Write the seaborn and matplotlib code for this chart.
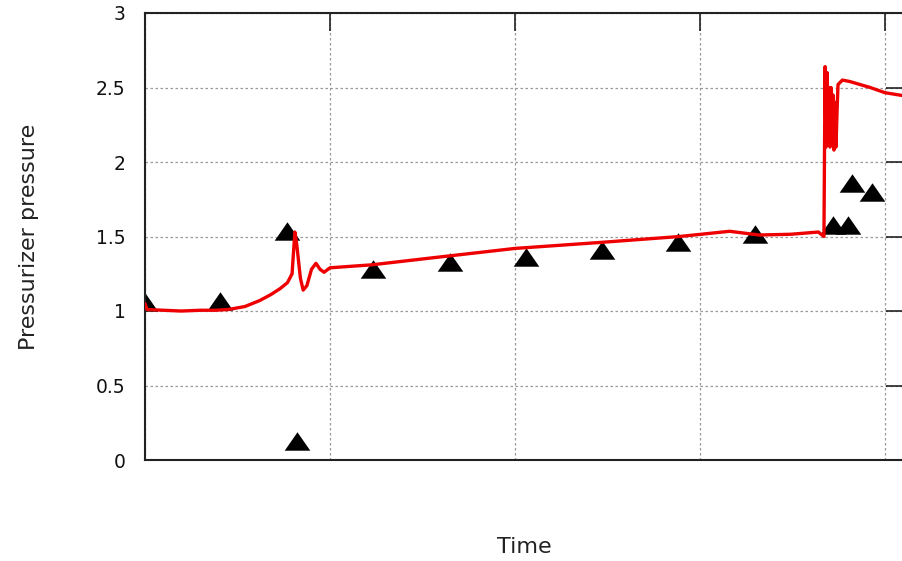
import numpy as np
import pandas as pd
import matplotlib
matplotlib.use("Agg")
import matplotlib.pyplot as plt
from matplotlib.path import Path
import seaborn as sns

# simulated pressurizer pressure (red line), time in grid units
sim_time = [0.0, 0.011, 0.10, 0.19, 0.20, 0.30, 0.38, 0.45, 0.54, 0.62, 0.68, 0.73,
            0.77, 0.795, 0.81, 0.82, 0.84, 0.855, 0.875, 0.90, 0.924, 0.946, 0.968,
            1.0, 1.227, 1.54, 2.0, 2.46, 2.89, 3.16, 3.32, 3.49, 3.64, 3.67,
            3.676, 3.681, 3.687, 3.692, 3.697, 3.703, 3.708, 3.714, 3.719, 3.724,
            3.73, 3.735, 3.741, 3.746, 3.77, 3.81, 3.92, 4.0, 4.1]
sim_pressure = [1.05, 1.01, 1.005, 1.0, 1.0, 1.005, 1.005, 1.01, 1.03, 1.07, 1.11, 1.15,
                1.19, 1.25, 1.53, 1.45, 1.22, 1.14, 1.17, 1.28, 1.32, 1.28, 1.26,
                1.29, 1.31, 1.355, 1.42, 1.46, 1.50, 1.535, 1.51, 1.515, 1.53, 1.50,
                2.64, 2.10, 2.60, 2.15, 2.50, 2.10, 2.50, 2.12, 2.45, 2.08,
                2.40, 2.10, 2.35, 2.52, 2.55, 2.54, 2.50, 2.465, 2.445]

# measured points (black triangles)
meas_time = [0.0, 0.405, 0.768, 0.822, 1.232, 1.649, 2.059, 2.470, 2.881,
             3.297, 3.719, 3.800, 3.822, 3.930]
meas_pressure = [1.06, 1.07, 1.54, 0.13, 1.28, 1.33, 1.36, 1.41, 1.46,
                 1.52, 1.58, 1.58, 1.86, 1.80]

y_ticks = [0, 0.5, 1, 1.5, 2, 2.5, 3]
y_tick_labels = ["0", "0.5", "1", "1.5", "2", "2.5", "3"]
x_ticks = [0, 1, 2, 3, 4]

sim = pd.DataFrame({"Time": sim_time, "Pressure": sim_pressure})
meas = pd.DataFrame({"Time": meas_time, "Pressure": meas_pressure})

sns.set_style("white")
plt.rcParams["font.family"] = ["DejaVu Sans"]

fig = plt.figure(figsize=(9.02, 5.61), dpi=100)
ax = fig.add_axes([145 / 902, 101 / 561, 758.5 / 902, 447 / 561])

tri = Path([(0, 0.72), (-1, -0.72), (1, -0.72), (0, 0.72)])
sns.scatterplot(data=meas, x="Time", y="Pressure", marker=tri, s=340,
                color="black", edgecolor="black", linewidth=0, ax=ax, zorder=2)
sns.lineplot(data=sim, x="Time", y="Pressure", color="#ee0000", linewidth=2.4,
             ax=ax, zorder=3, sort=False, estimator=None)

ax.set_xlim(0, 4.1)
ax.set_ylim(0, 3)
ax.set_xticks(x_ticks)
ax.set_xticklabels([])
ax.set_yticks(y_ticks)
ax.set_yticklabels(y_tick_labels)

ax.grid(True, color="#999999", linestyle=(0, (2, 2)), linewidth=0.9)
ax.set_axisbelow(True)
ax.tick_params(axis="both", direction="in", length=13, width=1.2, color="#222222",
               top=True, right=True, labelsize=13.5, labelcolor="#111111", pad=14)
for s in ax.spines.values():
    s.set_color("#222222")
    s.set_linewidth(1.5)

ax.set_xlabel("Time", fontsize=16, color="#222222")
ax.xaxis.set_label_coords(0.5, -0.172)
ax.set_ylabel("Pressurizer pressure", fontsize=16, color="#222222")
ax.yaxis.set_label_coords(-0.14, 0.5)

fig.savefig("out.png", dpi=100)
